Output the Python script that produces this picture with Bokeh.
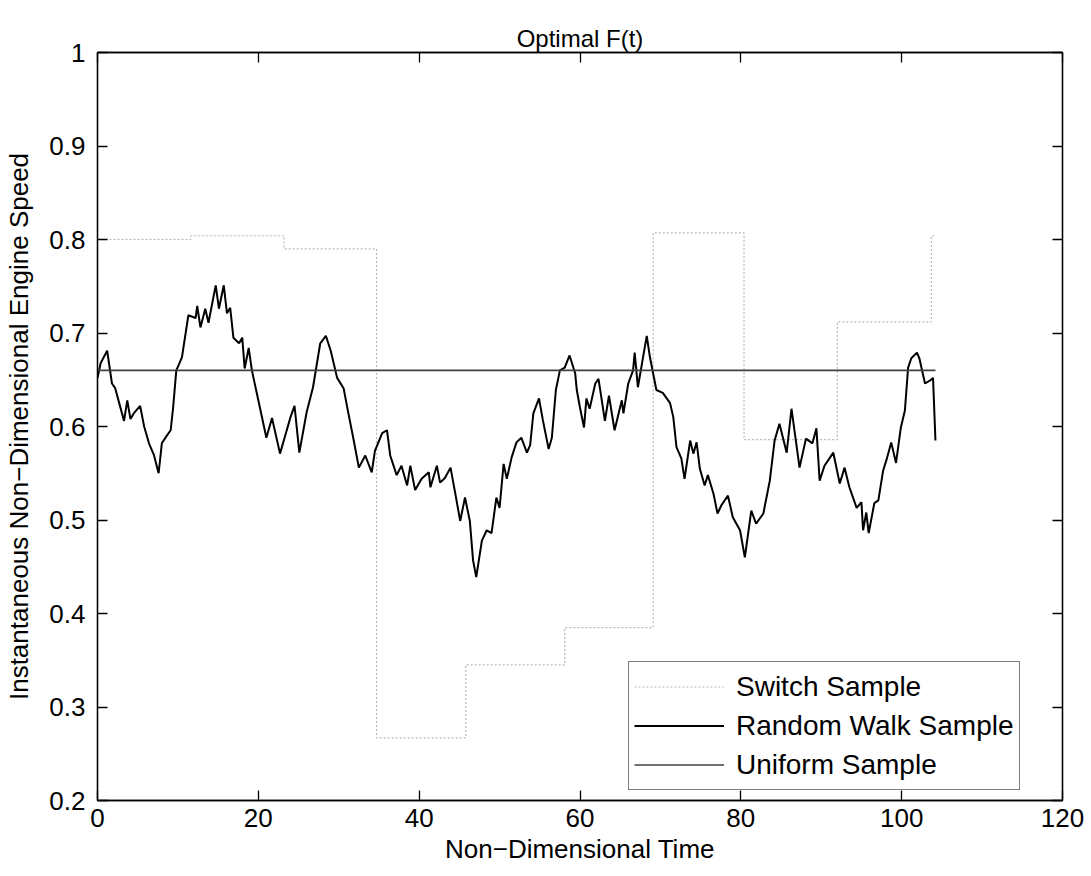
from bokeh.plotting import figure
from bokeh.models import FixedTicker, LinearAxis, Range1d, Legend, LegendItem
from bokeh.embed import file_html
from bokeh.resources import INLINE

# ---- data ----
rw_t = [0.0, 0.4, 1.2, 1.8, 2.2, 2.7, 3.3, 3.7, 4.1, 4.5, 5.3, 5.8, 6.4, 7.0, 7.6, 8.0, 8.6, 9.1, 9.4, 9.8,
        10.5, 11.3, 12.2, 12.4, 12.8, 13.4, 13.8, 14.7, 15.1, 15.7, 16.1, 16.5, 16.9, 17.6, 18.0, 18.3, 18.8,
        19.2, 20.2, 21.0, 21.7, 22.7, 23.4, 24.0, 24.5, 25.1, 26.0, 26.8, 27.7, 28.4, 29.0, 29.8, 30.6, 31.2,
        31.8, 32.5, 33.3, 34.1, 34.5, 35.4, 36.0, 36.4, 37.2, 37.8, 38.5, 38.9, 39.5, 40.3, 41.2, 41.4, 42.2,
        42.6, 43.2, 43.9, 44.5, 45.1, 45.7, 46.3, 46.7, 47.1, 47.8, 48.4, 49.0, 49.6, 50.0, 50.5, 50.9, 51.5,
        52.1, 52.7, 53.4, 53.8, 54.2, 54.9, 55.4, 56.1, 56.5, 57.0, 57.5, 58.1, 58.7, 59.4, 59.6, 60.0, 60.5,
        60.8, 61.2, 61.9, 62.3, 63.1, 63.6, 64.3, 65.2, 65.4, 66.0, 66.6, 66.8, 67.2, 67.7, 68.3, 68.7, 69.5,
        70.3, 71.2, 71.6, 72.0, 72.6, 73.0, 73.7, 74.1, 74.5, 74.9, 75.5, 75.9, 76.6, 77.1, 77.6, 78.4, 79.0,
        79.9, 80.5, 81.3, 81.9, 82.8, 83.6, 84.2, 84.8, 85.7, 86.3, 87.3, 88.1, 88.9, 89.4, 89.8, 90.4, 91.5,
        92.3, 92.9, 93.5, 94.4, 95.0, 95.2, 95.6, 95.9, 96.6, 97.1, 97.7, 98.1, 98.7, 99.3, 99.9, 100.4, 100.8,
        101.2, 101.9, 102.2, 102.9, 103.5, 103.9, 104.2]
rw_v = [0.652, 0.668, 0.681, 0.646, 0.641, 0.625, 0.606, 0.628, 0.608, 0.614, 0.622, 0.600, 0.582, 0.570, 0.550,
        0.582, 0.590, 0.596, 0.620, 0.660, 0.674, 0.719, 0.716, 0.729, 0.706, 0.726, 0.711, 0.751, 0.726, 0.751,
        0.721, 0.727, 0.695, 0.689, 0.695, 0.662, 0.684, 0.660, 0.620, 0.588, 0.609, 0.571, 0.592, 0.610, 0.622,
        0.572, 0.615, 0.642, 0.689, 0.697, 0.681, 0.652, 0.641, 0.614, 0.588, 0.556, 0.569, 0.551, 0.574, 0.593,
        0.596, 0.569, 0.548, 0.558, 0.537, 0.558, 0.532, 0.544, 0.551, 0.535, 0.558, 0.540, 0.545, 0.556, 0.528,
        0.499, 0.524, 0.499, 0.457, 0.439, 0.478, 0.489, 0.486, 0.524, 0.513, 0.560, 0.544, 0.567, 0.583, 0.588,
        0.572, 0.580, 0.614, 0.630, 0.606, 0.576, 0.588, 0.639, 0.660, 0.663, 0.676, 0.657, 0.639, 0.620, 0.599,
        0.630, 0.619, 0.646, 0.651, 0.606, 0.633, 0.596, 0.628, 0.614, 0.646, 0.660, 0.679, 0.642, 0.667, 0.697,
        0.674, 0.639, 0.636, 0.625, 0.610, 0.578, 0.566, 0.544, 0.585, 0.571, 0.583, 0.555, 0.537, 0.548, 0.528,
        0.507, 0.516, 0.526, 0.503, 0.489, 0.460, 0.510, 0.496, 0.507, 0.542, 0.585, 0.603, 0.572, 0.619, 0.556,
        0.587, 0.582, 0.598, 0.542, 0.558, 0.572, 0.539, 0.556, 0.535, 0.513, 0.519, 0.489, 0.508, 0.486, 0.518,
        0.521, 0.553, 0.564, 0.583, 0.561, 0.599, 0.617, 0.663, 0.673, 0.679, 0.673, 0.646, 0.649, 0.652, 0.585]

switch_t = [0.0, 11.6, 23.2, 34.7, 45.8, 58.1, 69.1, 80.4, 92.0, 103.7, 104.2]
switch_v = [0.800, 0.804, 0.790, 0.267, 0.345, 0.385, 0.807, 0.586, 0.712, 0.804, 0.804]

uniform_t = [0.0, 104.2]
uniform_v = [0.66, 0.66]

x_ticks = [0, 20, 40, 60, 80, 100, 120]
y_ticks = [0.2, 0.3, 0.4, 0.5, 0.6, 0.7, 0.8, 0.9, 1.0]

FONT = "Liberation Sans"

p = figure(width=1091, height=876, output_backend="svg", toolbar_location=None,
           x_range=Range1d(0, 120), y_range=Range1d(0.2, 1.0),
           min_border_left=97, min_border_right=29, min_border_top=52, min_border_bottom=76)

p.title.text = "Optimal F(t)"
p.title.align = "center"
p.title.text_font = FONT
p.title.text_font_size = "24px"
p.title.text_font_style = "normal"
p.title.text_color = "black"
p.title.standoff = 2

p.xgrid.visible = False
p.ygrid.visible = False
p.outline_line_color = "black"
p.outline_line_width = 1.3

sw = p.step(switch_t, switch_v, mode="after", line_color="#b8b8b8", line_width=1.2, line_dash="2 2")
rw = p.line(rw_t, rw_v, line_color="black", line_width=2)
un = p.line(uniform_t, uniform_v, line_color="#404040", line_width=1.6)

for ax in (p.xaxis[0], p.yaxis[0]):
    ax.major_tick_in = 10
    ax.major_tick_out = 0
    ax.minor_tick_line_color = None
    ax.axis_line_color = "black"
    ax.axis_line_width = 1.3
    ax.major_tick_line_width = 1.3
    ax.major_label_text_font = FONT
    ax.major_label_text_font_size = "26px"
    ax.major_label_text_color = "black"
    ax.axis_label_text_font = FONT
    ax.axis_label_text_font_size = "26px"
    ax.axis_label_text_font_style = "normal"
    ax.axis_label_text_color = "black"

p.xaxis[0].ticker = FixedTicker(ticks=x_ticks)
p.yaxis[0].ticker = FixedTicker(ticks=y_ticks)
p.yaxis[0].major_label_overrides = {1: "1"}
p.xaxis[0].axis_label = "Non\u2212Dimensional Time"
p.yaxis[0].axis_label = "Instantaneous Non\u2212Dimensional Engine Speed"
p.xaxis[0].major_label_standoff = 8
p.xaxis[0].axis_label_standoff = 4
p.yaxis[0].major_label_standoff = 12
p.yaxis[0].axis_label_standoff = 12

# box ticks on top and right (no labels drawn)
for loc, ticks in (("right", y_ticks), ("above", x_ticks)):
    ax = LinearAxis(ticker=FixedTicker(ticks=ticks), major_tick_in=10, major_tick_out=0,
                    minor_tick_line_color=None, axis_line_color="black", axis_line_width=1.3,
                    major_tick_line_width=1.3, major_label_text_font_size="1px",
                    major_label_text_color=None, major_label_standoff=0)
    p.add_layout(ax, loc)

legend = Legend(items=[LegendItem(label="Switch Sample", renderers=[sw]),
                       LegendItem(label="Random Walk Sample", renderers=[rw]),
                       LegendItem(label="Uniform Sample", renderers=[un])],
                location=(531, 10), label_text_font=FONT, label_text_font_size="28px",
                label_text_color="black",
                glyph_width=90, glyph_height=39, label_height=39, label_standoff=12,
                spacing=0, padding=5, margin=0, border_line_color="black",
                border_line_width=1.3, background_fill_color="white", background_fill_alpha=1)
p.add_layout(legend, "center")

open("out.html", "w").write(file_html(p, INLINE))
